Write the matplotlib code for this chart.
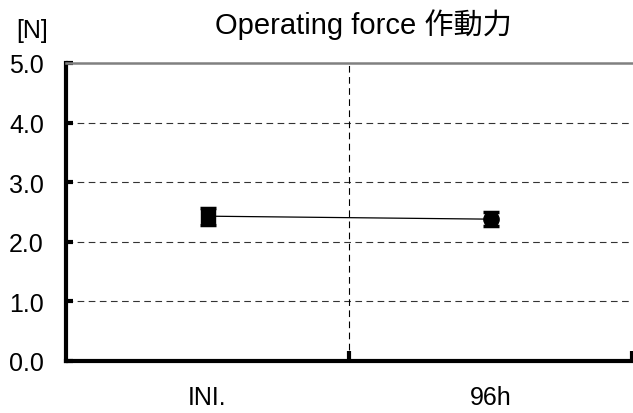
import matplotlib
matplotlib.use("Agg")
import matplotlib.pyplot as plt
import numpy as np

plt.rcParams['font.family'] = ['Liberation Sans', 'Noto Sans CJK JP', 'DejaVu Sans']

# ----------------------------
# Data
# ----------------------------
categories = ["INI.", "96h"]
force_mean = [2.43, 2.38]
force_err = [0.14, 0.12]
y_ticks = [0.0, 1.0, 2.0, 3.0, 4.0, 5.0]

# ----------------------------
# Plot
# ----------------------------
fig = plt.figure(figsize=(6.33, 4.14), dpi=100)
ax = fig.add_axes([66 / 633, 52 / 414, 566 / 633, 298 / 414])

x = np.arange(len(categories))

ax.plot(x, force_mean, color="black", linewidth=0.9, zorder=3)
ax.errorbar(x, force_mean, yerr=force_err, fmt="none", ecolor="black",
            elinewidth=2, capsize=5.5, capthick=2.5, zorder=4)
ax.plot(x[:1], force_mean[:1], linestyle="none", marker="s", markersize=10,
        color="black", zorder=5)
ax.plot(x[1:], force_mean[1:], linestyle="none", marker="o", markersize=11,
        color="black", zorder=5)

ax.set_xlim(-0.5, 1.5)
ax.set_ylim(0, 5)

# gridlines
for t in y_ticks[1:-1]:
    ax.axhline(t, color="#333333", linestyle=(0, (6, 4)), linewidth=0.8, zorder=1)
ax.axvline(0.5, color="black", linestyle=(0, (6, 4)), linewidth=0.8, zorder=1)

ax.spines["top"].set_color("#808080")
ax.spines["top"].set_linewidth(1.8)
ax.spines["right"].set_visible(False)
ax.spines["left"].set_linewidth(3)
ax.spines["bottom"].set_linewidth(3)

ax.set_yticks(y_ticks)
ax.set_yticklabels([f"{v:.1f}" for v in y_ticks], fontsize=18)
ax.tick_params(axis="y", direction="in", length=5, width=3, pad=16)

ax.set_xticks(x)
ax.set_xticklabels(categories, fontsize=18)
ax.tick_params(axis="x", length=0, pad=17)
ax.set_xticks([0.5, 1.5], minor=True)
ax.tick_params(axis="x", which="minor", direction="in", length=7, width=3)

fig.text(32 / 633, 1 - 31 / 414, "[N]", fontsize=18, ha="center", va="center")
fig.text(363 / 633, 1 - 25 / 414, "Operating force 作動力", fontsize=21,
         ha="center", va="center")

fig.savefig("out.png", dpi=100)
